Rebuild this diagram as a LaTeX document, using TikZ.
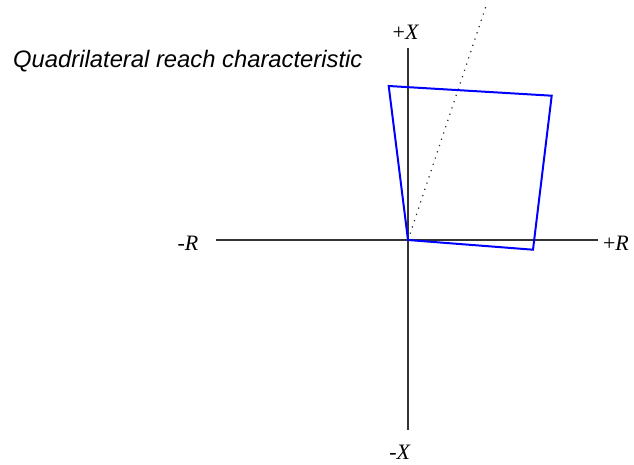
\documentclass[tikz,border=0pt]{standalone}
\usepackage{fontspec}
\setmainfont{Liberation Serif}
\setsansfont{Liberation Sans}
\begin{document}
\begin{tikzpicture}[x=1pt,y=-1pt,
  axis/.style={draw=black!80,line width=1.7pt},
  quad/.style={draw=blue,line width=2pt,line join=miter},
  dots/.style={draw=black!85,line width=1.2pt,dash pattern=on 1.2pt off 5.4pt},
  lbl/.style={font=\fontsize{22}{22}\selectfont,inner sep=0pt},
  ttl/.style={font=\sffamily\itshape\fontsize{23.8}{24}\selectfont,inner sep=0pt,anchor=west}]
\useasboundingbox (0,0) rectangle (634,464);
\coordinate (O) at (408,240);
\coordinate (top) at (408,48);
\coordinate (bot) at (408,430);
\coordinate (lft) at (216,240);
\coordinate (rgt) at (598,240);
\coordinate (tl) at (388.7,86);
\coordinate (tr) at (551.7,95.7);
\coordinate (br) at (533,249.7);
\coordinate (dend) at (486,6);
\draw[axis] (top) -- (bot);
\draw[axis] (lft) -- (rgt);
\draw[dots] (O) -- (dend);
\draw[quad] (O) -- (tl) -- (tr) -- (br) -- cycle;
\node[lbl] (px) at (406,32) {+\textit{X}};
\node[lbl] (mx) at (400,452) {-\textit{X}};
\node[lbl] (mr) at (188,243) {-\textit{R}};
\node[lbl] (pr) at (616,243) {+\textit{R}};
\node[ttl] (title) at (13,61) {Quadrilateral reach characteristic};
\end{tikzpicture}
\end{document}
